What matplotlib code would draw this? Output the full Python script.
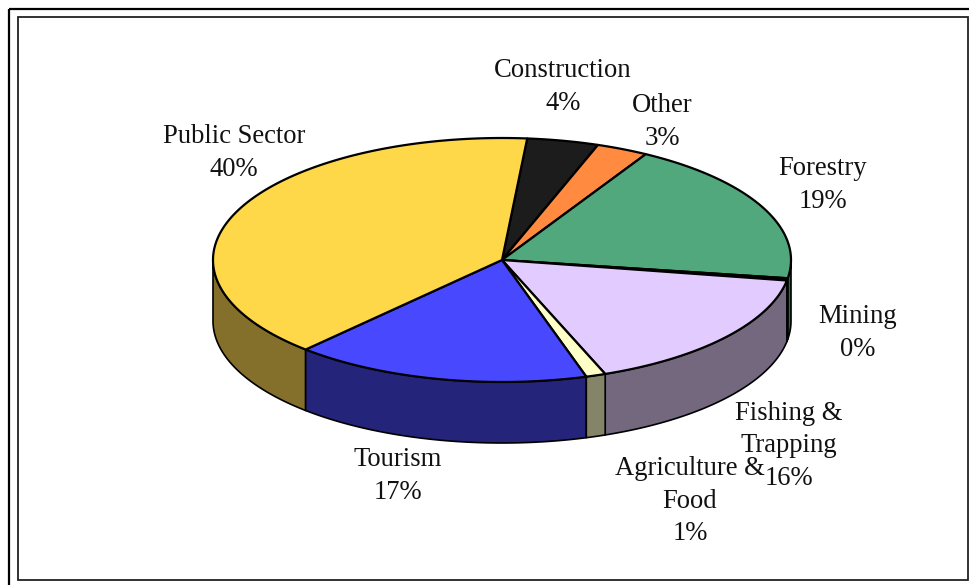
import numpy as np
import matplotlib
matplotlib.use('Agg')
import matplotlib.pyplot as plt
from matplotlib.patches import Polygon, Rectangle

# Sector shares, clockwise starting from Public Sector's end near the top
categories = ['Construction', 'Other', 'Forestry', 'Mining', 'Fishing &\nTrapping',
              'Agriculture &\nFood', 'Tourism', 'Public Sector']
values = [4.0, 2.9, 19.1, 0.3, 16.5, 1.1, 16.6, 39.5]

top_colors = ['#1c1c1c', '#ff8a40', '#50a87c', '#1c5c3c', '#e2ccff', '#ffffc8', '#4848ff', '#ffd84a']
side_colors = ['#101010', '#84481f', '#2b6a4b', '#0c2c1c', '#74687f', '#848468', '#24247a', '#84702a']

# label centres in pixels
label_x = [563, 662, 823, 858, 789, 690, 398, 234]
label_y = [87, 122, 185, 333, 446, 501, 476, 153]

CX, CY = 502, 260
RX, RY = 289, 122
DEPTH = 61
START = 85.0


def arc(a0, a1, n=120):
    t = np.radians(np.linspace(a0, a1, n))
    return CX + RX * np.cos(t), CY - RY * np.sin(t)


def draw_side(ax, a0, a1, color):
    # only the part of the slice facing the viewer (lower half of the ellipse)
    for lo, hi in [(-180, 0), (-540, -360)]:
        s0, s1 = min(a0, hi), max(a1, lo)
        if s0 <= s1:
            continue
        x, y = arc(s0, s1)
        pts = np.vstack([np.c_[x, y], np.c_[x[::-1], y[::-1] + DEPTH]])
        ax.add_patch(Polygon(pts, closed=True, fc=color, ec='black', lw=1.2, joinstyle='round', zorder=2))


fig = plt.figure(figsize=(9.69, 5.85), dpi=100)
ax = fig.add_axes([0, 0, 1, 1])
ax.set_xlim(0, 969)
ax.set_ylim(585, 0)
ax.axis('off')

ax.add_patch(Rectangle((9, 9), 980, 600, fc='none', ec='black', lw=1.6, zorder=1))
ax.add_patch(Rectangle((18.5, 16.5), 949.5, 563.5, fc='white', ec='#222222', lw=1.3, zorder=1))

edges = START - np.cumsum([0] + values) * 3.6

# sides first, from the outer ends inward so nearer ones overlap
order = [7, 0, 1, 2, 3, 4, 6, 5]
for i in order:
    draw_side(ax, edges[i], edges[i + 1], side_colors[i])

for i in range(len(values)):
    x, y = arc(edges[i], edges[i + 1])
    pts = np.vstack([[CX, CY], np.c_[x, y]])
    ax.add_patch(Polygon(pts, closed=True, fc=top_colors[i], ec='black', lw=1.6, joinstyle='round', zorder=3))

for name, val, lx, ly in zip(categories, values, label_x, label_y):
    ax.text(lx, ly, f'{name}\n{val:.0f}%', ha='center', va='center', family='Liberation Serif',
            fontsize=19.2, linespacing=1.41, color='#111111', zorder=4)

fig.savefig('out.png', dpi=100, facecolor='white')
